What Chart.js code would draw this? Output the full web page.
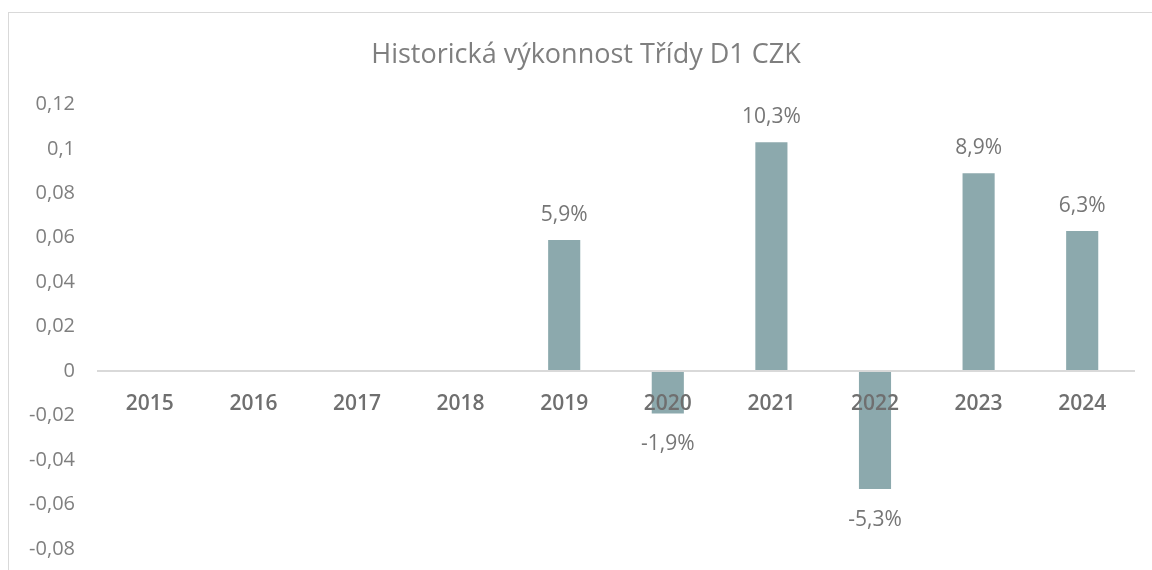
<!DOCTYPE html>
<html>
<head>
<meta charset="utf-8">
<script src="https://cdn.jsdelivr.net/npm/chart.js@4"></script>
<style>
    html, body { margin: 0; padding: 0; overflow: hidden; background: #fff; }
    #frame { position: absolute; left: 8px; top: 12px; width: 1200px; height: 600px; border: 1px solid #d9d9d9; }
    #wrap { position: absolute; left: 0; top: 0; width: 1152px; height: 570px; }
</style>
</head>
<body>
<div id="frame"></div>
<div id="wrap"><canvas id="grafico-vykonnost"></canvas></div>
<script>
// Data - roky a výkonnost
const roky = ["2015", "2016", "2017", "2018", "2019", "2020", "2021", "2022", "2023", "2024"]
const vykonnost = [null, null, null, null, 0.059, -0.019, 0.103, -0.053, 0.089, 0.063]
const osaYTicks = [-0.08, -0.06, -0.04, -0.02, 0, 0.02, 0.04, 0.06, 0.08, 0.1, 0.12]

const fontFamily = "'Open Sans', 'Noto Sans', sans-serif"

const formatCislo = v => String(Number(v.toFixed(2))).replace('.', ',')
const formatProcento = v => (v * 100).toFixed(1).replace('.', ',') + '%'

// Plugin na popisky nad / pod sloupci
const popiskyPlugin = {
    id: 'popisky',
    afterLayout(chart) {
        // titulek je vycentrovany na ramecek grafu, ne na platno
        chart.titleBlock.left = 38
    },
    afterDatasetsDraw(chart) {
        const ctx = chart.ctx
        const meta = chart.getDatasetMeta(0)
        ctx.save()
        ctx.font = `21px ${fontFamily}`
        ctx.fillStyle = '#767676'
        ctx.textAlign = 'center'
        ctx.textBaseline = 'middle'
        meta.data.forEach((bar, i) => {
            const v = vykonnost[i]
            if (v === null) return
            const y = v >= 0 ? bar.y - 25 : bar.y + 31
            ctx.fillText(formatProcento(v), bar.x, y)
        })
        ctx.restore()
    }
}

new Chart(document.getElementById('grafico-vykonnost'), {
    type: 'bar',
    data: {
        labels: roky,
        datasets: [{
            label: 'Výkonnost',
            data: vykonnost,
            backgroundColor: '#8ca9ad',
            categoryPercentage: 1,
            barPercentage: 0.31
        }]
    },
    options: {
        responsive: true,
        maintainAspectRatio: false,
        animation: false,
        layout: { padding: { left: 15, right: 18, top: 0, bottom: 21 } },
        plugins: {
            legend: { display: false },
            tooltip: { enabled: false },
            title: {
                display: true,
                text: 'Historická výkonnost Třídy D1 CZK',
                color: '#7f7f7f',
                font: { family: fontFamily, size: 27, weight: 'normal' },
                padding: { top: 39, bottom: 33 }
            }
        },
        scales: {
            x: {
                position: { y: 0 },
                grid: { display: false, drawTicks: false },
                border: { display: true, color: '#d9d9d9', width: 2, z: 1 },
                ticks: {
                    z: 1,
                    color: '#6f6f6f',
                    padding: 20,
                    font: { family: fontFamily, size: 21, weight: '600' }
                }
            },
            y: {
                min: -0.08,
                max: 0.12,
                afterBuildTicks: scale => {
                    scale.ticks = osaYTicks.map(v => ({ value: v }))
                },
                afterFit: scale => { scale.width = 83 },
                grid: { display: false, drawTicks: true, tickLength: 23 },
                border: { display: false },
                ticks: {
                    color: '#7f7f7f',
                    padding: 0,
                    font: { family: fontFamily, size: 20 },
                    callback: v => formatCislo(v)
                }
            }
        }
    },
    plugins: [popiskyPlugin]
})
</script>
</body>
</html>
